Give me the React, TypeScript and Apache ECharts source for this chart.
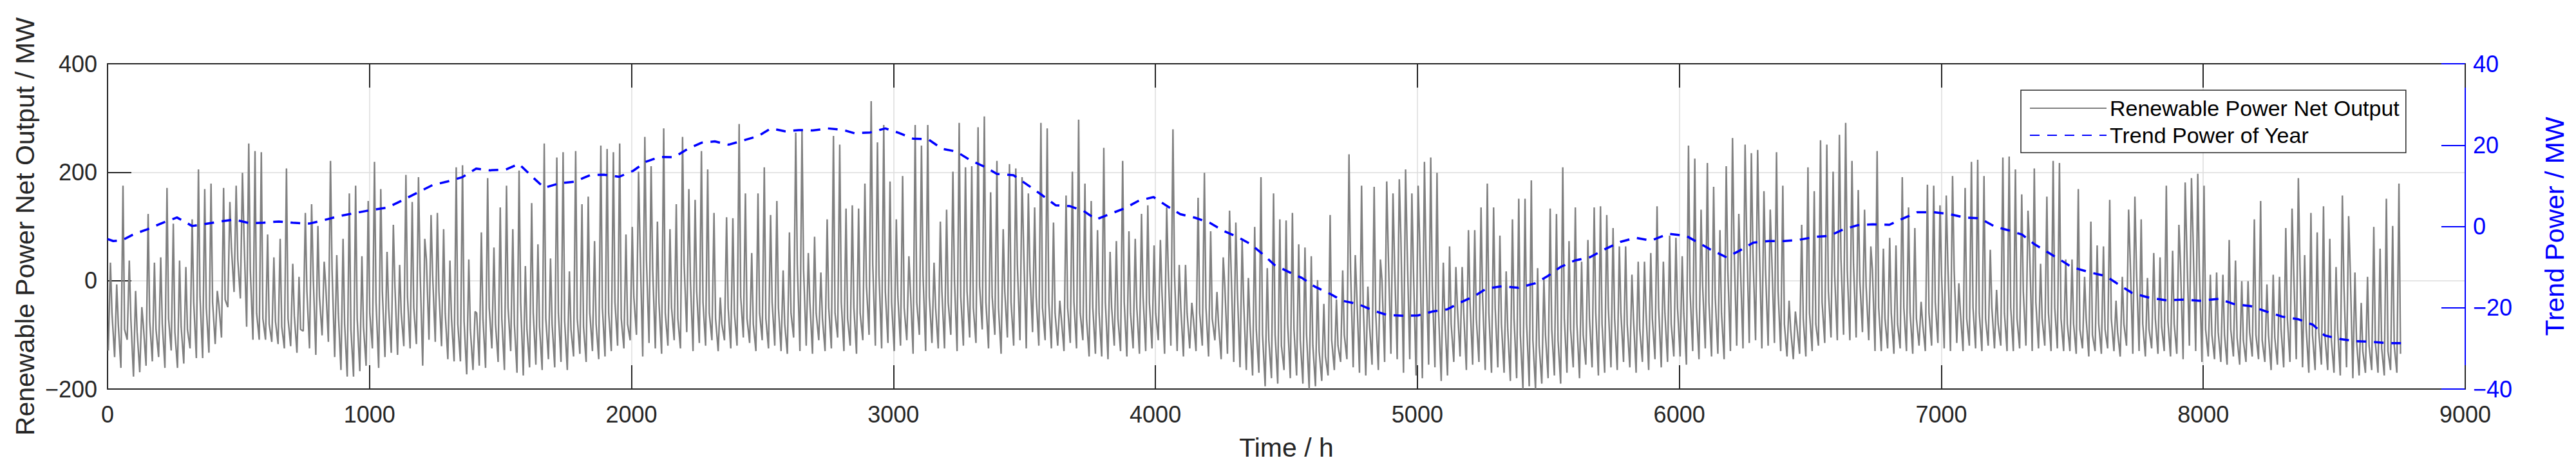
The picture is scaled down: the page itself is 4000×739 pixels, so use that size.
import React, { useEffect, useRef } from "react";
import * as echarts from "echarts";

// ---------- data ----------
// Daily spike maximum of net output (MW), one value per day, in six periods
const peakP1 = [33,-7,175,37,-19,-49,123,33,43,171,105,37,25,113,205,169,179,-19,171,145,175,199,253,239,237,85,43,77,207,31,7,125,141,101,35,221,47,77,161,175,45,147,219,169,53,103,29,195,145,191,77,121,125,95,37,209,213,39,-57,89,189,61];
const peakP2 = [135,175,95,203,27,143,67,253,41,227,237,17,239,141,155,73,249,243,237,253,85,99,201,265,211,109,281,95,141,265,169,149,239,205,125,-31,117,115,289,161,51,161,209,121,147,19,89,273,277,51,81,15,113,267,251,133,139,133,179,331,255,287,183];
const peakP3 = [113,193,45,287,249,287,33,109,131,201,291,209,211,283,303,163,221,95,215,207,191,161,135,291,281,107,-37,157,201,297,179,147,93,245,53,73,221,91,77,123,139,65,75,135,279,29,29,-41,153,199,91,-21,43,129,107,75,5,99,191,23,161,113];
const peakP4 = [111,125,67,61,45,1,-43,121,-35,19,233,47,175,-11,173,39,183,161,187,205,161,175,219,227,199,33,63,25,25,93,93,135,179,135,83,17,113,151,151,185,23,3,133,123,209,73,135,35,75,135,137,121,97,63,63,11,35,35,51,137,35,83,79];
const peakP5 = [45,249,225,131,217,173,93,211,263,123,251,235,241,165,131,237,175,-37,-57,103,209,165,259,251,201,269,291,221,167,131,63,239,59,79,65,191,135,97,-39,177,175,139,157,193,-5,171,219,223,193,57,-17,227,229,205,159,129,207,31,155,221,217,39];
const peakP6 = [39,169,7,109,65,63,149,-37,7,131,155,113,5,51,43,175,55,103,181,189,197,175,11,15,11,75,37,-1,-1,113,147,-7,11,7,97,133,189,47,125,89,137,77,25,157,119,15,-41,7,99,59,151,101,179];

// Daily night-time minimum (MW)
const lowP1 = [-129,-141,-161,-109,-177,-169,-157,-149,-141,-161,-129,-161,-153,-125,-143,-143,-133,-117,-105,-49,-21,-33,-85,-109,-109,-109,-113,-117,-125,-121,-133,-93,-125,-137,-101,-113,-141,-165,-177,-177,-167,-157,-125,-161,-141,-133,-137,-121,-125,-117,-157,-109,-113,-121,-145,-149,-149,-173,-165,-157,-161,-125];
const lowP2 = [-150,-165,-130,-170,-175,-160,-155,-165,-145,-160,-150,-165,-140,-135,-150,-130,-145,-140,-130,-120,-125,-110,-100,-140,-115,-125,-135,-120,-110,-125,-95,-130,-115,-120,-110,-130,-110,-125,-120,-105,-115,-130,-110,-125,-120,-130,-135,-105,-130,-120,-135,-110,-130,-125,-105,-130,-120,-135,-110,-100,-120,-125,-115];
const lowP3 = [-130,-120,-110,-135,-100,-130,-115,-125,-125,-100,-130,-120,-105,-115,-90,-125,-100,-135,-105,-120,-110,-125,-95,-120,-110,-125,-120,-130,-115,-125,-110,-140,-135,-140,-145,-120,-130,-140,-125,-135,-130,-125,-110,-135,-120,-130,-140,-125,-130,-120,-140,-110,-145,-135,-150,-160,-165,-175,-170,-195,-180,-190];
const lowP4 = [-165,-180,-175,-190,-200,-195,-185,-175,-165,-150,-145,-160,-170,-175,-155,-165,-150,-135,-145,-170,-145,-175,-180,-155,-160,-185,-175,-150,-140,-165,-155,-150,-165,-170,-160,-170,-185,-180,-200,-195,-200,-190,-180,-175,-190,-170,-160,-180,-155,-160,-175,-170,-160,-165,-150,-160,-170,-150,-165,-145,-160,-150,-140];
const lowP5 = [-140,-155,-130,-145,-125,-140,-135,-145,-130,-120,-125,-115,-110,-125,-120,-115,-130,-140,-145,-135,-140,-130,-120,-115,-105,-110,-100,-110,-105,-95,-110,-130,-130,-125,-135,-125,-130,-135,-120,-130,-120,-115,-125,-130,-115,-130,-120,-125,-130,-120,-125,-120,-130,-130,-125,-120,-130,-125,-120,-130,-125,-130];
const lowP6 = [-130,-135,-125,-140,-130,-135,-125,-130,-140,-120,-135,-130,-140,-125,-135,-130,-140,-135,-145,-120,-130,-150,-140,-145,-150,-155,-140,-155,-150,-140,-145,-150,-165,-155,-160,-150,-145,-160,-170,-165,-155,-165,-170,-175,-160,-180,-175,-170,-165,-170,-175,-165,-170];

// Daily evening level after the spike (MW)
const midP1 = [-60,-80,-90,-70,-95,-85,-75,-90,-80,-70,-95,-85,-90,-40,-30,-50,-40,-45,-35,60,40,80,20,-60,-70,-80,-75,-85,-70,-65,-90,-20,10,-30,-10,20,-60,-80,-90,-70,-85,-60,-40,-20,-50,-10,-60,-30,-50,20,40,10,-20,-60,-70,-80,-75,-90,-60,-70,-50,-80];
const midP2 = [-70,-50,-80,-40,-90,-60,-85,-70,-80,-60,-75,-90,-70,-85,-60,-80,-50,-60,-40,-70,-80,-30,60,40,20,-40,-60,-50,-70,30,0,-20,-40,-60,-70,-80,-50,-60,-30,-70,-80,-60,-70,-40,-50,-80,-60,30,20,-40,-60,-70,-50,-60,-40,-70,-50,-60,-10,30,10,-20,-40];
const midP3 = [-30,-50,-20,-40,10,-30,-50,-20,-40,0,-30,-20,-50,-10,-40,-30,-50,-20,-40,30,60,20,-30,-50,-40,-60,-70,-50,-40,-60,-70,-50,-60,-40,-50,-70,-40,-60,-50,-30,-40,-60,-20,20,10,-50,-60,-70,-60,-50,-70,-80,-10,20,-20,-40,-80,-90,-100,-110,-100,-120];
const midP4 = [-80,-90,-110,-100,-120,-130,-140,-110,-120,-100,20,-30,-40,-80,-60,0,50,30,80,60,20,70,40,-10,-60,-70,-80,-50,-60,-40,-70,-30,-60,-50,-80,-90,-70,-100,-80,-110,-120,-100,-90,-110,-70,-90,-80,-100,-70,-60,-80,-50,-70,-60,-80,-70,-90,-60,-70,-50,-60,-80,-50];
const midP5 = [-60,-20,-50,-10,-40,-30,-60,20,60,30,80,50,70,20,40,-20,-80,-90,-85,-70,-60,-80,-40,-20,10,40,20,30,0,-10,20,-50,-70,-60,-80,-50,-60,-70,-80,-60,-40,10,30,20,-60,-70,-50,-60,-70,-50,-80,-60,-50,-70,-20,60,-40,-70,-60,-50,-70,-80];
const midP6 = [-80,-90,-70,-100,-80,-90,-70,-95,-80,40,20,-80,-90,-70,-85,-75,-80,30,60,80,20,-90,-100,-95,-100,-90,-105,-110,-95,-100,-110,-100,-105,-90,-70,20,30,-90,-100,-95,-105,-110,-90,-10,20,-110,-130,-120,-115,-125,-130,-120,-135];

// Trend power of year (right axis, MW) at hours
const trendHours = [0,22,56,104,153,211,265,323,372,430,484,542,595,654,707,770,824,882,945,1004,1067,1125,1183,1242,1295,1354,1407,1460,
  1521,1570,1623,1667,1725,1783,1842,1895,1953,2007,2055,2109,2162,2216,2269,2318,2371,2430,2483,2532,2585,2639,2692,2750,2804,2852,2911,2969,
  3021,3074,3133,3186,3240,3293,3347,3395,3458,3512,3565,3619,3672,3726,3774,3828,3881,3939,3993,4042,4095,4153,4207,4260,4314,4362,4411,4455,
  4506,4560,4608,4667,4715,4774,4832,4885,4949,5002,5060,5114,5162,5216,5264,5323,5386,5449,5498,5546,5600,5658,5716,5775,5833,5891,5959,
  6025,6073,6122,6180,6229,6282,6341,6399,6457,6516,6574,6627,6681,6739,6802,6856,6909,6968,7026,7089,7147,7206,7259,7308,7356,7405,7454,
  7497,7573,7627,7675,7729,7792,7860,7923,7986,8059,8118,8181,8244,8302,8361,8419,8463,8521,8579,8643,8701,8759];
const trendValues = [-3.1,-3.6,-3.4,-1.8,-0.7,0.9,2.2,0.1,0.6,1.2,1.7,0.8,0.9,1.2,0.9,0.7,1.5,2.5,3.3,4.0,4.6,6.4,8.3,10.2,11.0,12.1,14.2,13.8,
  14.0,15.4,12.1,9.5,10.6,11.0,12.6,12.7,12.2,13.7,15.9,17.1,17.0,19.1,20.6,20.9,20.1,21.2,22.2,24.1,23.4,23.7,23.6,24.1,23.8,22.9,23.1,24.1,
  23.0,21.6,21.4,19.1,18.4,16.3,14.7,12.9,12.6,10.2,7.8,5.2,5.0,3.8,1.7,3.1,4.4,6.4,7.2,5.1,3.0,2.1,0.9,-1.1,-2.6,-4.3,-6.9,-9.5,
  -11.1,-12.7,-14.8,-16.6,-18.3,-19.1,-20.7,-21.8,-22.0,-21.9,-20.9,-20.4,-18.8,-17.2,-15.3,-14.7,-15.1,-14.0,-12.2,-10.0,-8.4,-7.6,-5.6,-3.8,-2.8,-3.5,-1.8,
  -2.3,-4.0,-5.8,-7.6,-6.0,-4.0,-3.6,-3.6,-3.3,-2.6,-2.3,-0.7,0.3,0.5,0.4,2.0,3.5,3.5,3.1,2.2,2.0,-0.1,-1.0,-2.0,-4.4,-6.3,-8.2,
  -10.0,-11.4,-12.2,-14.2,-16.4,-17.5,-18.2,-18.0,-18.3,-17.8,-19.1,-19.6,-21.0,-22.2,-22.8,-24.2,-26.8,-27.7,-28.2,-28.4,-28.7,-28.7];

const seriesNames = ["Renewable Power Net Output", "Trend Power of Year"];
const axisTitles = { x: "Time / h", yLeft: "Renewable Power Net Output / MW", yRight: "Trend Power / MW" };

// ---------- build series data ----------
const dailyPeak = [...peakP1, ...peakP2, ...peakP3, ...peakP4, ...peakP5, ...peakP6];
const dailyLow = [...lowP1, ...lowP2, ...lowP3, ...lowP4, ...lowP5, ...lowP6];
const dailyMid = [...midP1, ...midP2, ...midP3, ...midP4, ...midP5, ...midP6];

const netData: [number, number][] = [];
for (let d = 0; d < dailyPeak.length; d++) {
  netData.push([24 * d + 3, dailyLow[d]]);
  netData.push([24 * d + 11, dailyPeak[d]]);
  netData.push([24 * d + 17, dailyMid[d]]);
}
const trendData = trendHours.map((h, i) => [h, trendValues[i]]);

const FONT = "'Liberation Sans', Arial, Helvetica, sans-serif";
const DARK = "#262626";
const BLUE = "#0000ff";
const GRAY = "#808080";
const plain = (v: number) => String(v).replace("-", "\u2212");

export default function App() {
  const ref = useRef<HTMLDivElement>(null);
  useEffect(() => {
    const chart = echarts.init(ref.current!, null, { renderer: "svg" });
    chart.setOption({
      animation: false,
      backgroundColor: "#ffffff",
      textStyle: { fontFamily: FONT },
      grid: { left: 167, right: 172, top: 99, bottom: 135, containLabel: false },
      legend: {
        orient: "vertical",
        left: 3138,
        top: 140,
        padding: [11, 10, 10, 13],
        itemGap: 8,
        itemWidth: 119,
        itemHeight: 14,
        backgroundColor: "#ffffff",
        borderColor: DARK,
        borderWidth: 1.5,
        borderRadius: 0,
        itemStyle: { opacity: 0, borderWidth: 0 },
        textStyle: { fontSize: 34, color: "#000000", fontFamily: FONT },
        data: seriesNames,
      },
      xAxis: [
        {
          type: "value",
          position: "bottom",
          min: 0,
          max: 9000,
          interval: 1000,
          name: axisTitles.x,
          nameLocation: "middle",
          nameGap: 70,
          nameTextStyle: { fontSize: 41, color: DARK, fontFamily: FONT },
          axisLine: { show: true, onZero: false, lineStyle: { color: DARK, width: 2 } },
          axisTick: { show: true, inside: true, length: 37, lineStyle: { color: DARK, width: 2 } },
          axisLabel: { fontSize: 36, color: DARK, margin: 21, fontFamily: FONT, formatter: plain },
          splitLine: { show: true, lineStyle: { color: "#dcdcdc", width: 1.5 } },
        },
        {
          type: "value",
          position: "top",
          min: 0,
          max: 9000,
          interval: 1000,
          axisLine: { show: true, onZero: false, lineStyle: { color: DARK, width: 2 } },
          axisTick: { show: true, inside: true, length: 37, lineStyle: { color: DARK, width: 2 } },
          axisLabel: { show: false },
          splitLine: { show: false },
        },
      ],
      yAxis: [
        {
          type: "value",
          position: "left",
          min: -200,
          max: 400,
          interval: 200,
          name: axisTitles.yLeft,
          nameLocation: "middle",
          nameRotate: 90,
          nameGap: 108,
          nameTextStyle: { fontSize: 41, color: DARK, fontFamily: FONT },
          axisLine: { show: true, onZero: false, lineStyle: { color: DARK, width: 2 } },
          axisTick: { show: true, inside: true, length: 37, lineStyle: { color: DARK, width: 2 } },
          axisLabel: { fontSize: 36, color: DARK, margin: 16, fontFamily: FONT, formatter: plain },
          splitLine: { show: true, lineStyle: { color: "#dcdcdc", width: 1.5 } },
        },
        {
          type: "value",
          position: "right",
          min: -40,
          max: 40,
          interval: 20,
          name: axisTitles.yRight,
          nameLocation: "middle",
          nameRotate: 90,
          nameGap: 118,
          nameTextStyle: { fontSize: 41, color: BLUE, fontFamily: FONT },
          axisLine: { show: true, onZero: false, lineStyle: { color: BLUE, width: 2 } },
          axisTick: { show: true, inside: true, length: 37, lineStyle: { color: BLUE, width: 2 } },
          axisLabel: { fontSize: 36, color: BLUE, margin: 12, fontFamily: FONT, formatter: plain },
          splitLine: { show: false },
        },
      ],
      series: [
        {
          name: seriesNames[0],
          type: "line",
          xAxisIndex: 0,
          yAxisIndex: 0,
          data: netData,
          symbol: "none",
          showSymbol: false,
          lineStyle: { color: GRAY, width: 2.4 },
          itemStyle: { color: GRAY },
          z: 2,
        },
        {
          name: seriesNames[1],
          type: "line",
          xAxisIndex: 0,
          yAxisIndex: 1,
          data: trendData,
          symbol: "none",
          showSymbol: false,
          lineStyle: { color: BLUE, width: 3.5, type: [15, 12] },
          itemStyle: { color: BLUE },
          z: 3,
        },
      ],
    });
    return () => chart.dispose();
  }, []);
  return (
    <div
      ref={ref}
      style={{ position: "absolute", left: 0, top: 0, width: 4000, height: 739, background: "#ffffff" }}
    />
  );
}
